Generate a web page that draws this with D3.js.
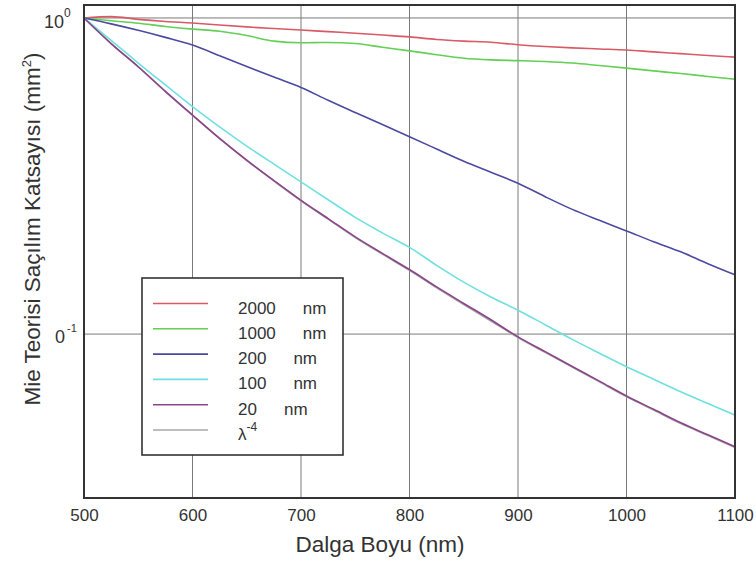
<!DOCTYPE html>
<html>
<head>
<meta charset="utf-8">
<title>Mie</title>
<style>
body { margin:0; background:#fff; }
svg text { font-family: Arial, "Liberation Sans", sans-serif; fill:#333; }
.grid line { stroke:#7a7a7a; stroke-width:1; }
.curve { fill:none; stroke-width:1.6; }
</style>
</head>
<body>
<svg id="chart" width="756" height="566"></svg>
<script src="https://d3js.org/d3.v7.min.js"></script>
<script>

// wavelength (nm), every 25 nm
let wavelengths = [500, 525, 550, 575, 600, 625, 650, 675, 700, 725, 750, 775, 800,
                   825, 850, 875, 900, 925, 950, 975, 1000, 1025, 1050, 1075, 1100];

// values
let d2000 = [1.0, 1.01, 0.99, 0.975, 0.964, 0.95, 0.937, 0.926, 0.916, 0.905, 0.895, 0.883, 0.871,
             0.855, 0.845, 0.838, 0.823, 0.812, 0.804, 0.798, 0.792, 0.781, 0.771, 0.761, 0.752];
let d1000 = [1.0, 0.98, 0.962, 0.94, 0.922, 0.908, 0.88, 0.845, 0.835, 0.836, 0.83, 0.808, 0.787,
             0.765, 0.746, 0.737, 0.733, 0.728, 0.72, 0.707, 0.694, 0.68, 0.667, 0.653, 0.64];
let d200  = [1.0, 0.958, 0.914, 0.868, 0.821, 0.76, 0.702, 0.65, 0.603, 0.549, 0.502, 0.46, 0.421,
             0.385, 0.352, 0.325, 0.300, 0.272, 0.248, 0.229, 0.212, 0.196, 0.182, 0.167, 0.154];
let d100  = [1.0, 0.85, 0.72, 0.614, 0.524, 0.452, 0.393, 0.345, 0.303, 0.266, 0.234, 0.209, 0.188,
             0.165, 0.146, 0.131, 0.119, 0.107, 0.0962, 0.087, 0.0788, 0.072, 0.0657, 0.0603, 0.0554];
let d20   = [1.0, 0.83, 0.701, 0.586, 0.493, 0.416, 0.355, 0.306, 0.265, 0.232, 0.203, 0.18, 0.16,
             0.141, 0.125, 0.111, 0.098, 0.088, 0.079, 0.071, 0.0637, 0.0578, 0.0524, 0.048, 0.044];
let dLambda = [1.0, 0.829, 0.70, 0.585, 0.492, 0.415, 0.354, 0.305, 0.264, 0.231, 0.202, 0.179, 0.159,
             0.140, 0.124, 0.110, 0.0975, 0.0875, 0.0786, 0.0706, 0.0634, 0.0575, 0.0521, 0.0478, 0.0438];

let seriesNames = ["2000", "1000", "200", "100", "20", "λ"];
let seriesColors = ["#d85a66", "#62cf55", "#4a4aa0", "#6fe0df", "#8a4688", "#a8a8a8"];
let seriesData = [d2000, d1000, d200, d100, d20, dLambda];

let xTicks = [500, 600, 700, 800, 900, 1000, 1100];
let yTicks = [1, 0.1];

let margin = {top: 5, right: 21, bottom: 68, left: 84},
    width = 756 - margin.left - margin.right,
    height = 566 - margin.top - margin.bottom;

let svg = d3.select("#chart");
let g = svg.append("g")
    .attr("transform", "translate(" + margin.left + "," + margin.top + ")");

let x = d3.scaleLinear().domain([500, 1100]).range([0, width]);
let y = d3.scaleLog().domain([0.0303, 1.099]).range([height, 0]);

// grid
let grid = g.append("g").attr("class", "grid");
grid.selectAll(".vx")
  .data(xTicks.slice(1, -1))
  .enter().append("line")
    .attr("x1", d => x(d)).attr("x2", d => x(d))
    .attr("y1", 0).attr("y2", height);
grid.selectAll(".hy")
  .data(yTicks)
  .enter().append("line")
    .attr("x1", 0).attr("x2", width)
    .attr("y1", d => y(d)).attr("y2", d => y(d));

// curves (lambda^-4 first so it sits under the 20 nm line)
let line = d3.line()
    .x((d, i) => x(wavelengths[i]))
    .y(d => y(d))
    .curve(d3.curveMonotoneX);

let order = [5, 0, 1, 2, 3, 4];
g.selectAll(".curve")
  .data(order)
  .enter().append("path")
    .attr("class", "curve")
    .attr("stroke", i => seriesColors[i])
    .attr("d", i => line(seriesData[i]));

// frame
g.append("rect")
    .attr("width", width).attr("height", height)
    .attr("fill", "none").attr("stroke", "#333").attr("stroke-width", 2);

// x axis labels
let xAxis = d3.axisBottom(x).tickValues(xTicks).tickFormat(d3.format("d"))
    .tickSize(0).tickPadding(11);
let gx = g.append("g")
    .attr("transform", "translate(0," + height + ")")
    .call(xAxis);
gx.select(".domain").remove();
gx.selectAll("text").attr("font-size", 17).attr("fill", "#333")
  .style("font-family", "Arial, 'Liberation Sans', sans-serif");

// y tick labels, drawn as in the picture
let t0 = svg.append("text")
    .attr("x", 44).attr("y", margin.top + y(1) + 10)
    .attr("font-size", 18).text("10");
t0.append("tspan").attr("dy", -11).attr("font-size", 12).text("0");

let t1 = svg.append("text")
    .attr("x", 55).attr("y", margin.top + y(0.1) + 9)
    .attr("font-size", 18).text("0");
t1.append("tspan").attr("dx", 2).attr("dy", -11).attr("font-size", 11).text("-1");

// axis titles
svg.append("text")
    .attr("x", 380).attr("y", 552)
    .attr("text-anchor", "middle")
    .attr("font-size", 22.5)
    .text("Dalga Boyu (nm)");

let yt = svg.append("text")
    .attr("transform", "translate(40,229) rotate(-90)")
    .attr("text-anchor", "middle")
    .attr("font-size", 22.5)
    .text("Mie Teorisi Saçılım Katsayısı (mm");
yt.append("tspan").attr("dy", -9).attr("font-size", 13).text("2");
yt.append("tspan").attr("dy", 9).text(")");

// legend
let lg = svg.append("g").attr("transform", "translate(142,278)");
lg.append("rect")
    .attr("width", 201).attr("height", 177)
    .attr("fill", "#fff").attr("stroke", "#333").attr("stroke-width", 1.6);

let rows = lg.selectAll(".row")
  .data(seriesNames)
  .enter().append("g")
    .attr("transform", (d, i) => "translate(0," + (25.5 + i * 25.3) + ")");

rows.append("line")
    .attr("x1", 11).attr("x2", 66)
    .attr("stroke", (d, i) => seriesColors[i])
    .attr("stroke-width", 1.6);

rows.append("text")
    .attr("x", 96).attr("y", 10)
    .attr("font-size", 17)
    .each(function(d, i) {
      let t = d3.select(this);
      t.text(d);
      if (d === "λ") {
        t.append("tspan").attr("dy", -9).attr("font-size", 12).text("-4");
      } else {
        t.append("tspan").attr("dx", 27).text("nm");
      }
    });

</script>
</body>
</html>
